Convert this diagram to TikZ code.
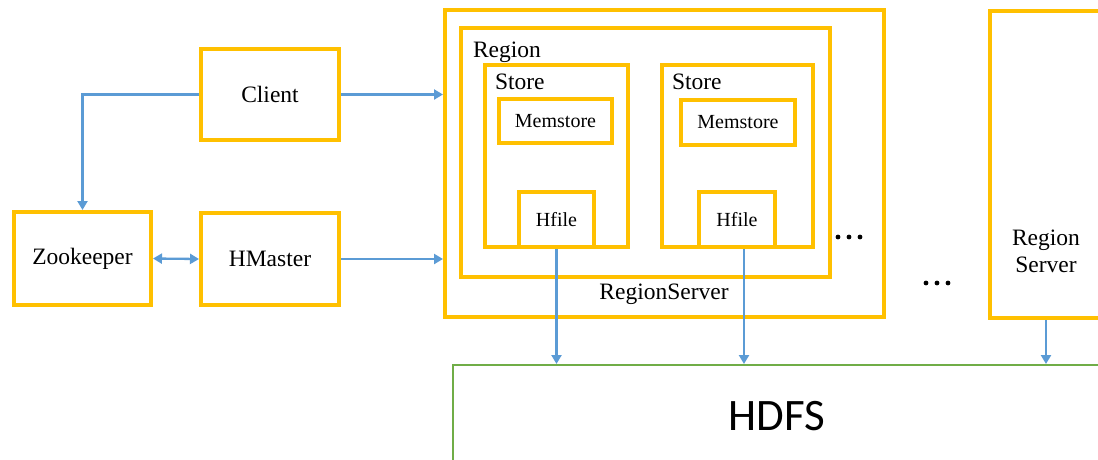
\documentclass[tikz,border=0pt]{standalone}
\usepackage{fontspec}
\setmainfont{Liberation Serif}
\newfontfamily\hdfsfont{Carlito}
\usetikzlibrary{arrows.meta}
\definecolor{hbOrange}{HTML}{FFC000}
\definecolor{hbBlue}{HTML}{5B9BD5}
\definecolor{hbGreen}{HTML}{70AD47}
\tikzset{
  box/.style={draw=hbOrange, line width=4pt, rectangle, inner sep=0pt, fill=none},
  bigtext/.style={font=\fontsize{23.5}{28}\selectfont},
  smalltext/.style={font=\fontsize{20}{24}\selectfont},
  tip/.style={},
  flow/.style={draw=hbBlue, line width=2.3pt, -{Triangle[length=9pt,width=10pt]}},
  flow2/.style={draw=hbBlue, line width=2.3pt, {Triangle[length=9pt,width=10pt]}-{Triangle[length=9pt,width=10pt]}},
  plain/.style={inner sep=0pt, outer sep=0pt},
}
\begin{document}
\begin{tikzpicture}[x=1pt,y=-1pt]
\useasboundingbox (0,0) rectangle (1098,459);
\clip (0,0) rectangle (1098,459);
\fill[white] (0,0) rectangle (1098,459);

% left column
\node[box, bigtext, minimum width=138pt, minimum height=91pt] (client) at (270,94.5) {Client};
\node[box, bigtext, minimum width=137pt, minimum height=93pt] (zk) at (82.5,258.5) {Zookeeper};
\node[box, bigtext, minimum width=138pt, minimum height=92pt] (hm) at (270,259) {HMaster};

% region server with one region and two stores
\node[box, minimum width=439pt, minimum height=307pt] (rs) at (664.5,163.5) {};
\node[box, minimum width=369pt, minimum height=249pt] (region) at (645.5,152.5) {};
\node[box, minimum width=143pt, minimum height=182pt] (store1) at (556.5,156) {};
\node[box, minimum width=151pt, minimum height=182pt] (store2) at (737.5,156) {};
\node[box, smalltext, minimum width=113pt, minimum height=44pt] (mem1) at (555.5,121) {Memstore};
\node[box, smalltext, minimum width=114pt, minimum height=45pt] (mem2) at (738,122.5) {Memstore};
\node[box, smalltext, minimum width=75pt, minimum height=55pt] (hf1) at (556.5,219.5) {Hfile};
\node[box, smalltext, minimum width=76pt, minimum height=55pt] (hf2) at (737,219.5) {Hfile};

\node[plain, bigtext, anchor=base west] (regionlbl) at (473,57) {Region};
\node[plain, bigtext, anchor=base west] (store1lbl) at (495,89) {Store};
\node[plain, bigtext, anchor=base west] (store2lbl) at (672,89) {Store};
\node[plain, bigtext, anchor=base] (rslbl) at (664,299) {RegionServer};

% ellipses
\foreach \dx in {0,11,22} {
  \fill (838+\dx,237) circle (2.4pt);
  \fill (926+\dx,283) circle (2.4pt);
}

% further region server
\node[box, minimum width=160pt, minimum height=307pt] (rs2) at (1070,164.5) {};
\node[plain, bigtext, align=center] (rs2lbl) at (1046,251) {Region\\[-1pt]Server};

% HDFS
\node[draw=hbGreen, line width=2pt, rectangle, inner sep=0pt, minimum width=680pt, minimum height=120pt] (hdfs) at (793,425) {};
\node[plain, font=\hdfsfont\fontsize{45}{50}\selectfont, anchor=base] (hdfslbl) at (777,430) {HDFS};

% connectors
\draw[flow] (client.west) -- (zk.north |- client.west) -- (zk.north);
\draw[flow] (client.east) -- (client.east -| rs.west);
\draw[flow2] (zk.east) -- (hm.west);
\draw[flow] (hm.east) -- (hm.east -| rs.west);
\draw[flow] (hf1.south) -- (hf1.south |- hdfs.north);
\draw[flow] ([xshift=7pt]hf2.south) -- ([xshift=7pt]hf2.south |- hdfs.north);
\draw[flow] (rs2lbl |- rs2.south) -- (rs2lbl |- hdfs.north);
\end{tikzpicture}
\end{document}
